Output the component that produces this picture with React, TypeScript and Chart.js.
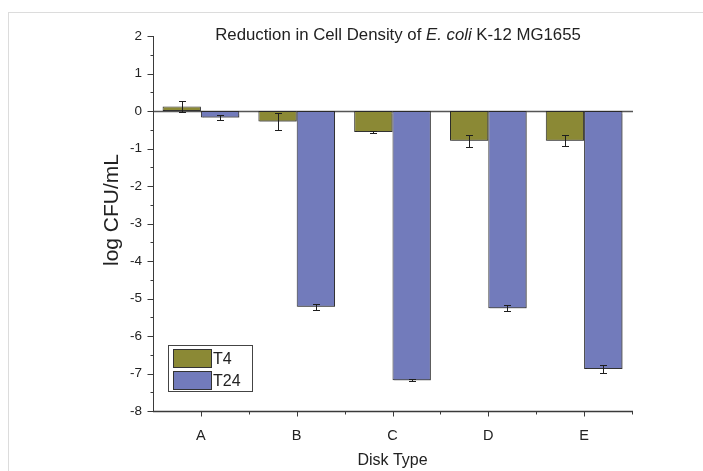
import React, { useEffect, useRef } from "react";
import { Chart, registerables } from "chart.js";

Chart.register(...registerables);

const categories = ["A", "B", "C", "D", "E"];
const t4Values = [0.12, -0.28, -0.56, -0.79, -0.79];
const t4Errors = [0.14, 0.22, 0.03, 0.16, 0.15];
const t24Values = [-0.17, -5.22, -7.18, -5.26, -6.88];
const t24Errors = [0.07, 0.08, 0.03, 0.08, 0.1];
const seriesLabels = ["T4", "T24"];
const yMin = -8;
const yMax = 2;

const FONT = "'Liberation Sans', Arial, Helvetica, sans-serif";
const TEXT = "#222222";
const AXIS = "#3a3a3a";

const olive = "#8b8935";
const blue = "#727bbb";

const errorsByDataset = [t4Errors, t24Errors];

const decorPlugin = {
  id: "decor",
  beforeDraw(chart: any) {
    const ctx = chart.ctx;
    ctx.save();
    ctx.fillStyle = "#ffffff";
    ctx.fillRect(0, 0, chart.width, chart.height);
    ctx.strokeStyle = "#dcdcdc";
    ctx.lineWidth = 1;
    ctx.strokeRect(8.5, 12.5, chart.width + 10, chart.height + 10);
    ctx.restore();
  },
  beforeDatasetsDraw(chart: any) {
    const ctx = chart.ctx;
    const { left, right } = chart.chartArea;
    const y0 = Math.round(chart.scales.y.getPixelForValue(0)) + 0.5;
    ctx.save();
    ctx.strokeStyle = "#555555";
    ctx.lineWidth = 1.5;
    ctx.beginPath();
    ctx.moveTo(left, y0);
    ctx.lineTo(right + 1, y0);
    ctx.stroke();
    ctx.restore();
  },
  beforeDatasetDraw(chart: any) {
    const ctx = chart.ctx;
    ctx.save();
    ctx.shadowColor = "rgba(60,60,60,0.45)";
    ctx.shadowOffsetX = 1.5;
    ctx.shadowOffsetY = 1.5;
    ctx.shadowBlur = 0.5;
  },
  afterDatasetDraw(chart: any) {
    chart.ctx.restore();
  },
  afterDatasetsDraw(chart: any) {
    const ctx = chart.ctx;
    const yScale = chart.scales.y;
    const xScale = chart.scales.x;
    const { left, right, top, bottom } = chart.chartArea;
    ctx.save();
    // error bars
    ctx.strokeStyle = "#1e1e1e";
    ctx.lineWidth = 1;
    chart.data.datasets.forEach((ds: any, di: number) => {
      const meta = chart.getDatasetMeta(di);
      const errs = errorsByDataset[di];
      meta.data.forEach((bar: any, i: number) => {
        const v = ds.data[i];
        const e = errs[i];
        const x = Math.round(bar.x) + 0.5;
        const yHi = Math.round(yScale.getPixelForValue(v + e)) + 0.5;
        const yLo = Math.round(yScale.getPixelForValue(v - e)) + 0.5;
        ctx.beginPath();
        ctx.moveTo(x, yHi);
        ctx.lineTo(x, yLo);
        ctx.moveTo(x - 3.5, yHi);
        ctx.lineTo(x + 3.5, yHi);
        ctx.moveTo(x - 3.5, yLo);
        ctx.lineTo(x + 3.5, yLo);
        ctx.stroke();
      });
    });

    // axes
    ctx.strokeStyle = AXIS;
    ctx.lineWidth = 1;
    const ax = Math.round(left) + 0.5;
    const by = Math.round(bottom) + 0.5;
    ctx.beginPath();
    ctx.moveTo(ax, top);
    ctx.lineTo(ax, by);
    ctx.stroke();
    ctx.lineWidth = 1.5;
    ctx.beginPath();
    ctx.moveTo(left, by);
    ctx.lineTo(right + 1, by);
    ctx.stroke();

    // y ticks (major + minor)
    ctx.lineWidth = 1;
    for (let v = yMin; v <= yMax + 1e-9; v += 0.5) {
      const y = Math.round(yScale.getPixelForValue(v)) + 0.5;
      const major = Math.abs(v - Math.round(v)) < 1e-9;
      ctx.beginPath();
      ctx.moveTo(ax - (major ? 6 : 3), y);
      ctx.lineTo(ax, y);
      ctx.stroke();
    }
    // x ticks: major at categories, minor at boundaries
    const n = categories.length;
    for (let i = 0; i < n; i++) {
      const x = Math.round(xScale.getPixelForValue(i)) + 0.5;
      ctx.beginPath();
      ctx.moveTo(x, by);
      ctx.lineTo(x, by + 5);
      ctx.stroke();
      const xb = Math.round(xScale.getPixelForValue(i + 0.5)) + 0.5;
      ctx.beginPath();
      ctx.moveTo(xb, by);
      ctx.lineTo(xb, by + 3);
      ctx.stroke();
    }

    // title with italic species name
    const parts: [string, string][] = [
      ["Reduction in Cell Density of ", "normal"],
      ["E. coli", "italic"],
      [" K-12 MG1655", "normal"],
    ];
    const size = 16.8;
    ctx.fillStyle = TEXT;
    ctx.textBaseline = "middle";
    ctx.textAlign = "left";
    let total = 0;
    parts.forEach(([t, s]) => {
      ctx.font = `${s} ${size}px ${FONT}`;
      total += ctx.measureText(t).width;
    });
    let tx = 398 - total / 2;
    parts.forEach(([t, s]) => {
      ctx.font = `${s} ${size}px ${FONT}`;
      ctx.fillText(t, tx, 35);
      tx += ctx.measureText(t).width;
    });

    // axis titles
    ctx.textAlign = "center";
    ctx.font = `16px ${FONT}`;
    ctx.fillText("Disk Type", (left + right) / 2, 461);
    ctx.save();
    ctx.translate(112, 210);
    ctx.rotate(-Math.PI / 2);
    ctx.font = `21px ${FONT}`;
    ctx.fillText("log CFU/mL", 0, 0);
    ctx.restore();

    // legend
    const lx = 168.5;
    const ly = 345.5;
    const lw = 84;
    const lh = 46;
    ctx.fillStyle = "#ffffff";
    ctx.fillRect(lx, ly, lw, lh);
    ctx.strokeStyle = "#444444";
    ctx.lineWidth = 1;
    ctx.strokeRect(lx, ly, lw, lh);
    chart.data.datasets.forEach((ds: any, di: number) => {
      const sy = 349.5 + di * 22;
      ctx.fillStyle = ds.backgroundColor;
      ctx.fillRect(173.5, sy, 38, 18);
      ctx.strokeStyle = "#333333";
      ctx.strokeRect(173.5, sy, 38, 18);
      ctx.fillStyle = TEXT;
      ctx.textAlign = "left";
      ctx.font = `16px ${FONT}`;
      ctx.fillText(ds.label, 213, sy + 10);
    });
    ctx.restore();
  },
};

export default function App() {
  const ref = useRef<HTMLCanvasElement | null>(null);
  useEffect(() => {
    if (!ref.current) return;
    const chart = new Chart(ref.current, {
      type: "bar",
      data: {
        labels: categories,
        datasets: [
          {
            label: seriesLabels[0],
            data: t4Values,
            backgroundColor: olive,
            borderColor: "#2a2a2a",
            borderWidth: 1,
            borderSkipped: false,
          },
          {
            label: seriesLabels[1],
            data: t24Values,
            backgroundColor: blue,
            borderColor: "#2a2a2a",
            borderWidth: 1,
            borderSkipped: false,
          },
        ],
      },
      options: {
        responsive: false,
        animation: false,
        events: [],
        layout: { padding: { top: 36, right: 71, left: 0, bottom: 0 } },
        datasets: {
          bar: { categoryPercentage: 0.8, barPercentage: 1 },
        },
        plugins: {
          legend: { display: false },
          title: { display: false },
          tooltip: { enabled: false },
        },
        scales: {
          x: {
            type: "category",
            offset: true,
            grid: { display: false, drawTicks: false },
            border: { display: false },
            ticks: {
              color: TEXT,
              font: { family: FONT, size: 14.5 },
              padding: 16,
              maxRotation: 0,
            },
            afterFit(scale: any) {
              scale.height = 60;
            },
          },
          y: {
            min: yMin,
            max: yMax,
            grid: { display: false, drawTicks: false },
            border: { display: false },
            ticks: {
              stepSize: 1,
              color: TEXT,
              font: { family: FONT, size: 13.5 },
              padding: 11,
            },
            afterFit(scale: any) {
              scale.width = 153;
            },
          },
        },
      },
      plugins: [decorPlugin],
    });
    return () => chart.destroy();
  }, []);
  return (
    <div style={{ position: "absolute", left: 0, top: 0, width: 703, height: 471 }}>
      <canvas ref={ref} width={703} height={471} />
    </div>
  );
}
